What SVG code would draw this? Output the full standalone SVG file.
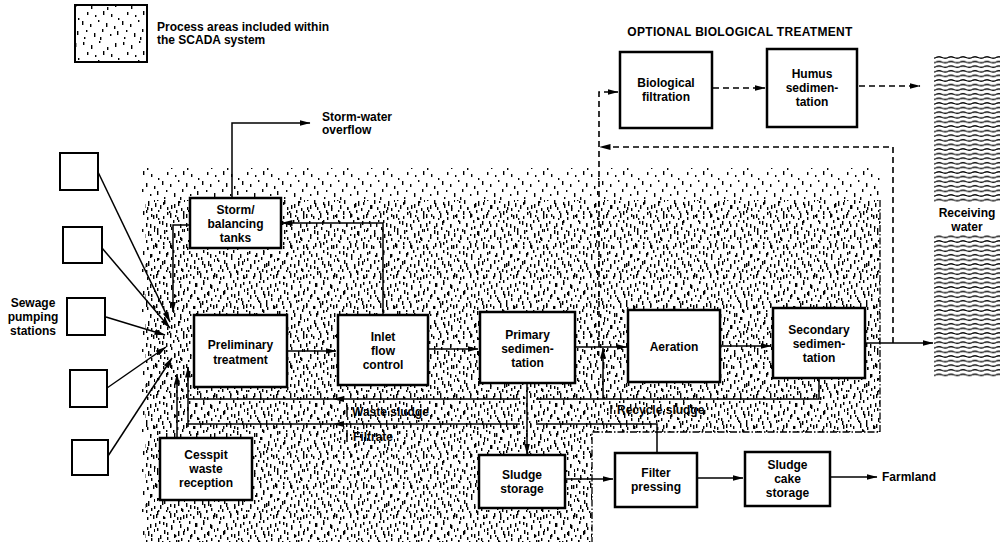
<svg xmlns="http://www.w3.org/2000/svg" width="1001" height="545" viewBox="0 0 1001 545">
<style>
.lbl{font-family:"Liberation Sans",Arial,sans-serif;font-weight:bold;font-size:12px;text-anchor:middle;fill:#000}
.txt{font-family:"Liberation Sans",Arial,sans-serif;font-weight:bold;font-size:12px;fill:#000}
.box{fill:#fff;stroke:#000;stroke-width:2.5}
.stn{fill:#fff;stroke:#000;stroke-width:2}
.ln{fill:none;stroke:#000;stroke-width:1.5}
.arr{fill:none;stroke:#000;stroke-width:1.5;marker-end:url(#ah)}
.dasharr{fill:none;stroke:#000;stroke-width:1.6;stroke-dasharray:6 4;marker-end:url(#ah)}
.bnd{fill:none;stroke:#000;stroke-width:1.3;stroke-dasharray:7 2 1.5 2}
</style>
<defs>
<marker id="ah" viewBox="0 0 11 6" refX="10.5" refY="3" markerWidth="11" markerHeight="6" markerUnits="userSpaceOnUse" orient="auto">
<path d="M0,0 L11,3 L0,6 z" fill="#000"/>
</marker>
<pattern id="stA" width="40" height="40" patternUnits="userSpaceOnUse">
<g fill="#000">
<rect x="3" y="2" width="1.4" height="3"/><rect x="11" y="5" width="1.4" height="4"/><rect x="19" y="1" width="1.4" height="2"/><rect x="27" y="7" width="1.4" height="3"/><rect x="35" y="3" width="1.4" height="4"/>
<rect x="7" y="12" width="1.4" height="3"/><rect x="15" y="15" width="1.4" height="2"/><rect x="23" y="11" width="1.4" height="4"/><rect x="31" y="14" width="1.4" height="3"/><rect x="38" y="18" width="1.4" height="2"/>
<rect x="2" y="21" width="1.4" height="4"/><rect x="10" y="24" width="1.4" height="3"/><rect x="18" y="20" width="1.4" height="2"/><rect x="26" y="23" width="1.4" height="4"/><rect x="34" y="26" width="1.4" height="3"/>
<rect x="6" y="30" width="1.4" height="2"/><rect x="14" y="33" width="1.4" height="4"/><rect x="22" y="29" width="1.4" height="3"/><rect x="30" y="34" width="1.4" height="2"/><rect x="37" y="31" width="1.4" height="4"/>
<rect x="4" y="37" width="1.4" height="2"/><rect x="20" y="37" width="1.4" height="3"/>
</g>
</pattern>
<pattern id="stB" width="30" height="30" patternUnits="userSpaceOnUse" x="5" y="3">
<g fill="#000">
<rect x="1" y="1" width="1.4" height="4"/><rect x="8" y="3" width="1.4" height="3"/><rect x="15" y="0" width="1.4" height="5"/><rect x="22" y="4" width="1.4" height="3"/><rect x="28" y="2" width="1.4" height="4"/>
<rect x="4" y="8" width="1.4" height="3"/><rect x="11" y="10" width="1.4" height="4"/><rect x="18" y="7" width="1.4" height="3"/><rect x="25" y="11" width="1.4" height="4"/>
<rect x="2" y="15" width="1.4" height="3"/><rect x="9" y="17" width="1.4" height="4"/><rect x="16" y="14" width="1.4" height="3"/><rect x="23" y="18" width="1.4" height="5"/><rect x="29" y="16" width="1" height="3"/>
<rect x="5" y="22" width="1.4" height="4"/><rect x="12" y="24" width="1.4" height="3"/><rect x="19" y="21" width="1.4" height="4"/><rect x="26" y="25" width="1.4" height="3"/>
<rect x="3" y="27" width="1.4" height="2"/><rect x="14" y="28" width="1.4" height="2"/><rect x="21" y="27" width="1.4" height="3"/>
</g>
</pattern>
<pattern id="waves" width="12" height="4.6" patternUnits="userSpaceOnUse">
<path d="M0,2.3 Q3,0.9 6,2.3 T12,2.3" fill="none" stroke="#000" stroke-width="1.2"/>
</pattern>
</defs>

<g id="scada-area">
<path d="M142,168 L882,168 L882,432 L592,432 L592,542 L142,542 Z" fill="url(#stA)"/>
<path d="M145,200 L880,200 L880,432 L592,432 L592,542 L145,542 Z" fill="url(#stB)"/>
<path class="bnd" d="M880,200 L880,432 L592,432 L592,542"/>
</g>

<g id="legend">
<rect x="75" y="5" width="72" height="57" fill="url(#stA)" stroke="#000" stroke-width="2"/>
<text class="txt" x="157" y="31">Process areas included within</text>
<text class="txt" x="157" y="44">the SCADA system</text>
</g>

<text id="title" x="740" y="36" style="font-family:'Liberation Sans',Arial,sans-serif;font-weight:bold;font-size:12px;letter-spacing:0.3px;text-anchor:middle;fill:#000">OPTIONAL BIOLOGICAL TREATMENT</text>

<g id="receiving-water">
<rect x="934" y="55" width="66" height="148" fill="url(#waves)"/>
<rect x="934" y="235" width="66" height="142" fill="url(#waves)"/>
<text class="lbl" x="967" y="217">Receiving</text>
<text class="lbl" x="967" y="231">water</text>
</g>

<g id="connectors">
<path class="arr" d="M98,172 L170,322"/>
<path class="arr" d="M102,248 L170,328"/>
<path class="arr" d="M106,317 L165,335"/>
<path class="arr" d="M107,388 L166,347"/>
<path class="arr" d="M108,456 L172,358"/>
<path class="arr" d="M190,225 L173,225 L173,312"/>
<path class="arr" d="M177,438 L177,374"/>
<path class="arr" d="M188,427 L188,367"/>
<path class="arr" d="M232,198 L232,123 L310,123"/>
<path class="arr" d="M383,315 L383,223 L282,223"/>
<path class="arr" d="M287,351 L336,351"/>
<path class="arr" d="M428,349 L478,349"/>
<path class="arr" d="M575,347 L627,347"/>
<path class="arr" d="M720,346 L771,346"/>
<path class="arr" d="M865,343 L933,343"/>
<path class="arr" d="M527,383 L527,454"/>
<path class="arr" d="M565,479 L613,479"/>
<path class="arr" d="M697,478 L743,478"/>
<path class="arr" d="M830,477 L877,477"/>
<path class="ln" d="M819,378 L819,399 L536,399"/>
<path class="ln" d="M520,399 L188,399"/>
<path class="arr" d="M603,399 L603,348"/>
<path d="M333,399 L344,396 L344,402 Z" fill="#000"/>
<path class="ln" d="M657,453 L657,424 L536,424"/>
<path class="ln" d="M520,424 L188,424"/>
<path d="M333,424 L344,421 L344,427 Z" fill="#000"/>
<path class="ln" d="M347,405 L347,417"/>
<path class="ln" d="M347,430 L347,442"/>
<path class="ln" d="M611,405 L611,414"/>
<path class="dasharr" d="M599,347 L599,92 L618,92"/>
<path class="dasharr" d="M713,88 L765,88"/>
<path class="dasharr" d="M859,86 L920,86"/>
<path class="dasharr" d="M893,343 L893,147 L600,147"/>
</g>

<g id="labels">
<text class="txt" x="322" y="121">Storm-water</text>
<text class="txt" x="322" y="134">overflow</text>
<text class="lbl" x="33" y="307">Sewage</text>
<text class="lbl" x="33" y="321">pumping</text>
<text class="lbl" x="33" y="335">stations</text>
<text class="txt" x="352" y="416">Waste sludge</text>
<text class="txt" x="353" y="441">Filtrate</text>
<text class="txt" x="617" y="414">Recycle sludge</text>
<text class="txt" x="882" y="481">Farmland</text>
</g>

<g id="stations">
<rect class="stn" x="60" y="153" width="38" height="37"/>
<rect class="stn" x="63" y="227" width="39" height="36"/>
<rect class="stn" x="67" y="298" width="38" height="37"/>
<rect class="stn" x="70" y="370" width="37" height="37"/>
<rect class="stn" x="72" y="440" width="36" height="35"/>
</g>

<g id="storm-tanks"><rect class="box" x="190" y="198" width="91" height="50"/>
<text class="lbl" x="235.5" y="214">Storm/</text><text class="lbl" x="235.5" y="228">balancing</text><text class="lbl" x="235.5" y="242">tanks</text></g>

<g id="preliminary"><rect class="box" x="194" y="315" width="93" height="72"/>
<text class="lbl" x="240.5" y="349">Preliminary</text><text class="lbl" x="240.5" y="364">treatment</text></g>

<g id="inlet"><rect class="box" x="338" y="315" width="90" height="70"/>
<text class="lbl" x="383" y="341">Inlet</text><text class="lbl" x="383" y="355">flow</text><text class="lbl" x="383" y="369">control</text></g>

<g id="primary"><rect class="box" x="480" y="312" width="95" height="71"/>
<text class="lbl" x="527.5" y="339">Primary</text><text class="lbl" x="527.5" y="353">sedimen-</text><text class="lbl" x="527.5" y="367">tation</text></g>

<g id="aeration"><rect class="box" x="628" y="310" width="92" height="72"/>
<text class="lbl" x="674" y="351">Aeration</text></g>

<g id="secondary"><rect class="box" x="773" y="308" width="92" height="70"/>
<text class="lbl" x="819" y="334">Secondary</text><text class="lbl" x="819" y="348">sedimen-</text><text class="lbl" x="819" y="362">tation</text></g>

<g id="cesspit"><rect class="box" x="160" y="438" width="92" height="62"/>
<text class="lbl" x="206" y="459">Cesspit</text><text class="lbl" x="206" y="473">waste</text><text class="lbl" x="206" y="487">reception</text></g>

<g id="sludge-storage"><rect class="box" x="479" y="455" width="86" height="53"/>
<text class="lbl" x="522" y="479">Sludge</text><text class="lbl" x="522" y="493">storage</text></g>

<g id="filter-pressing"><rect class="box" x="615" y="453" width="82" height="54"/>
<text class="lbl" x="656" y="477">Filter</text><text class="lbl" x="656" y="491">pressing</text></g>

<g id="cake-storage"><rect class="box" x="745" y="452" width="85" height="54"/>
<text class="lbl" x="787.5" y="469">Sludge</text><text class="lbl" x="787.5" y="483">cake</text><text class="lbl" x="787.5" y="497">storage</text></g>

<g id="bio-filtration"><rect class="box" x="620" y="52" width="92" height="76"/>
<text class="lbl" x="666" y="87">Biological</text><text class="lbl" x="666" y="101">filtration</text></g>

<g id="humus"><rect class="box" x="767" y="49" width="90" height="78"/>
<text class="lbl" x="812" y="78">Humus</text><text class="lbl" x="812" y="92">sedimen-</text><text class="lbl" x="812" y="106">tation</text></g>
</svg>
